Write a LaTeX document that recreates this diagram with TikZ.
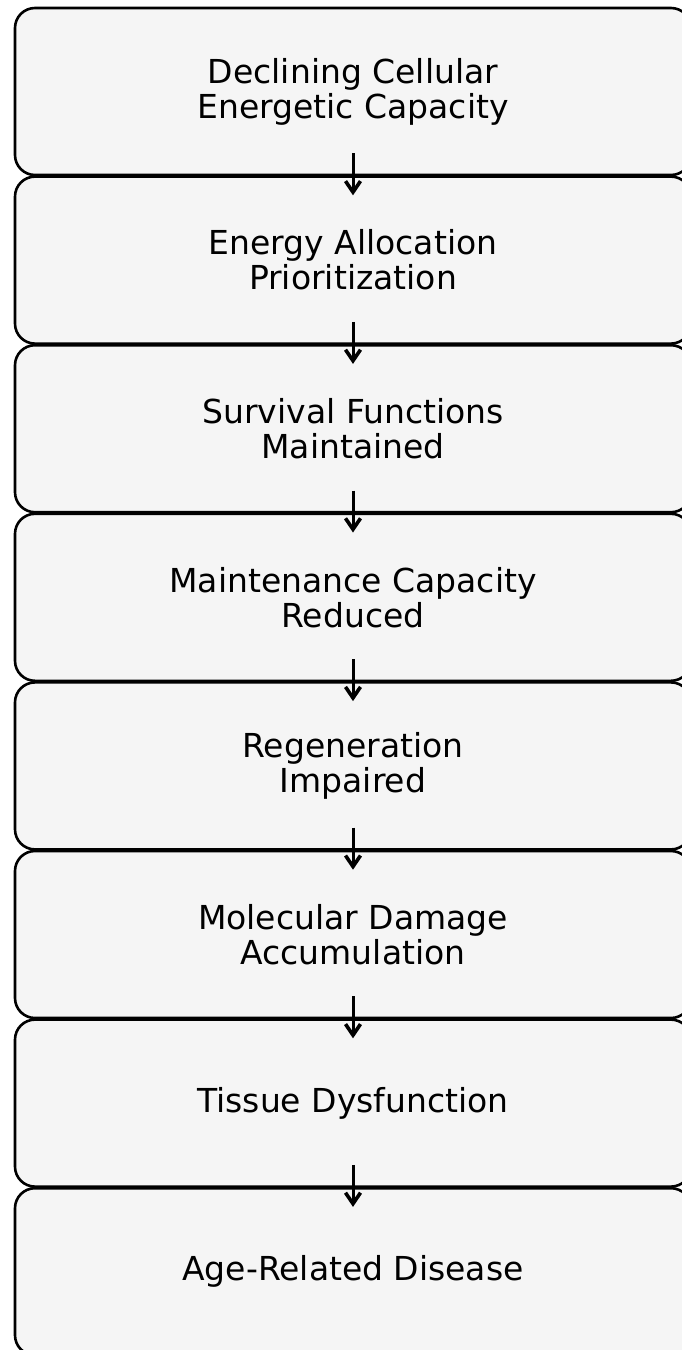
\documentclass[tikz,border=0pt]{standalone}
\usepackage{fontspec}
\setmainfont{DejaVu Sans}
\usepackage{tikz}
\usetikzlibrary{arrows.meta,positioning}

\begin{document}
\begin{tikzpicture}[
    x=1pt, y=1pt,
    stage/.style={rectangle, draw, line width=2.6pt, rounded corners=20pt, fill=black!4,
        minimum width=676pt, minimum height=167pt, align=center, font=\fontsize{33}{35}\selectfont},
    arrow/.style={-{Straight Barb[length=11pt,width=15pt,line width=3.6pt]}, line width=3pt}
]
\useasboundingbox (0,0) rectangle (681,-1350);

% Stage boxes
\node[stage] (s1) at (353,-91.5) {Declining Cellular\\Energetic Capacity};
\node[stage] (s2) at (353,-260.1) {Energy Allocation\\Prioritization};
\node[stage] (s3) at (353,-428.7) {Survival Functions\\Maintained};
\node[stage] (s4) at (353,-597.3) {Maintenance Capacity\\Reduced};
\node[stage] (s5) at (353,-765.9) {Regeneration\\Impaired};
\node[stage] (s6) at (353,-934.5) {Molecular Damage\\Accumulation};
\node[stage] (s7) at (353,-1103.1) {Tissue Dysfunction};
\node[stage] (s8) at (353,-1271.7) {Age-Related Disease};

% Arrows
\foreach \a/\b in {s1/s2,s2/s3,s3/s4,s4/s5,s5/s6,s6/s7,s7/s8}
    \draw[arrow] ([yshift=23pt]\a.south) -- ([yshift=-20pt]\b.north);

\end{tikzpicture}
\end{document}
